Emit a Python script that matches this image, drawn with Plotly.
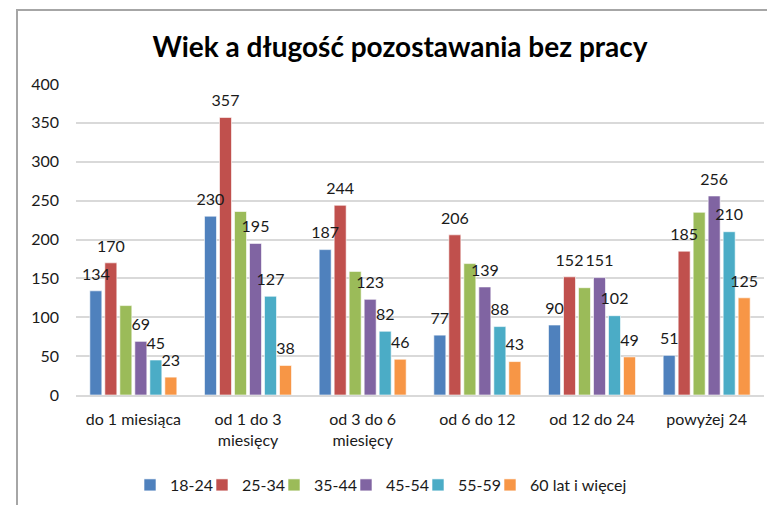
import plotly.graph_objects as go

categories = ["do 1 miesiąca", "od 1 do 3<br>miesięcy", "od 3 do 6<br>miesięcy",
              "od 6 do 12", "od 12 do 24", "powyżej 24"]
series_names = ["18-24", "25-34", "35-44", "45-54", "55-59", "60 lat i więcej"]
v_18_24 = [134, 230, 187, 77, 90, 51]
v_25_34 = [170, 357, 244, 206, 152, 185]
v_35_44 = [115, 236, 159, 169, 138, 235]
v_45_54 = [69, 195, 123, 139, 151, 256]
v_55_59 = [45, 127, 82, 88, 102, 210]
v_60 = [23, 38, 46, 43, 49, 125]
show_labels = [True, True, False, True, True, True]
colors = ["#4F81BD", "#C0504D", "#9BBB59", "#8064A2", "#4BACC6", "#F79646"]

values = [v_18_24, v_25_34, v_35_44, v_45_54, v_55_59, v_60]
FONT = "Lato, Liberation Sans, sans-serif"
GAP = 0.215
L, R, T, B = 76, 3, 84, 110
PW = 767 - L - R
PH = 505 - T - B

fig = go.Figure()
legend_layouts = {}
for i, (name, vals, col, lab) in enumerate(zip(series_names, values, colors, show_labels)):
    lg = "legend" if i == 0 else f"legend{i + 1}"
    fig.add_trace(go.Bar(
        x=categories, y=vals, name=name, legend=lg,
        marker=dict(color=col, line=dict(color="rgba(255,255,255,0.6)", width=1)),
        hoverinfo="x+y+name",
    ))
    legend_layouts[lg] = dict(
        orientation="h", x=(130 + 72 * i - L) / PW, xanchor="left",
        y=(395 - 485) / PH, yanchor="middle", font=dict(size=16),
        itemwidth=30, bgcolor="rgba(0,0,0,0)")
    # data labels: grouped scatter text aligned with bars
    fig.add_trace(go.Scatter(
        x=categories, y=vals, mode="markers+text",
        text=[str(v) for v in vals] if lab else [""] * len(vals),
        textposition="top center",
        textfont=dict(family=FONT, size=16, color="#1a1a1a"),
        marker=dict(size=10, opacity=0),
        showlegend=False, hoverinfo="skip", cliponaxis=False,
    ))

fig.update_layout(
    width=767, height=505,
    margin=dict(l=L, r=R, t=T, b=B),
    paper_bgcolor="white", plot_bgcolor="white",
    barmode="group", bargap=GAP, bargroupgap=0.2,
    scattermode="group", scattergap=GAP,
    title=dict(text="<b>Wiek a długość pozostawania bez pracy</b>",
               font=dict(family=FONT, size=28, color="#000000"),
               x=0.5215, xref="container", xanchor="center",
               y=1 - 47 / 505, yref="container", yanchor="middle"),
    font=dict(family=FONT, size=16, color="#1a1a1a"),
    yaxis=dict(range=[0, 400], dtick=50, showgrid=True, gridcolor="#d9d9d9",
               gridwidth=2, zeroline=False, showline=False, ticks="",
               ticklabelstandoff=16, tickfont=dict(size=16)),
    xaxis=dict(showline=True, linecolor="#d9d9d9", linewidth=2, ticks="",
               ticklabelstandoff=9, tickfont=dict(size=16)),
    showlegend=True,
    shapes=[dict(type="rect", xref="paper", yref="paper",
                 x0=(17 - L) / PW, x1=1.2, y0=-1, y1=(395 - 10) / PH,
                 line=dict(color="#a6a6a6", width=2), layer="below")],
    **legend_layouts,
)

fig.write_html("out.html", config={"displayModeBar": False},
               post_script="document.body.style.margin='0';")
